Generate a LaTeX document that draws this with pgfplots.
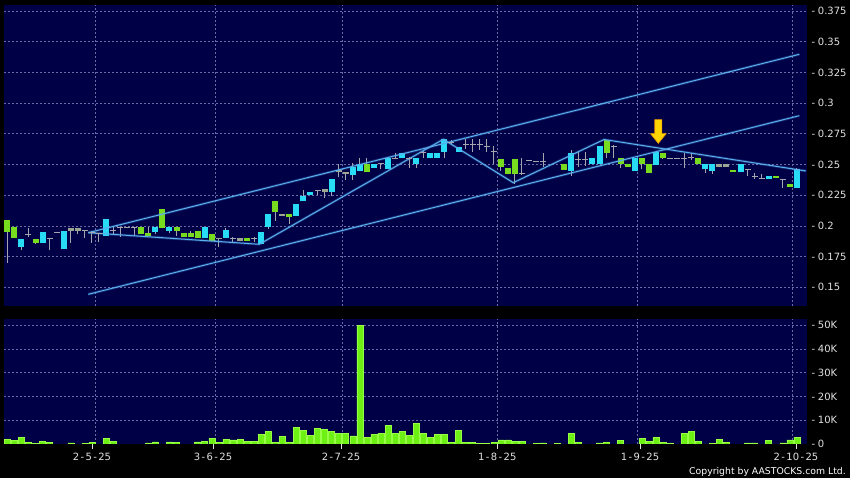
\documentclass[border=0pt]{standalone}
\usepackage{fontspec}
\setmainfont{DejaVu Sans}
\usepackage{pgfplots}
\usepackage{pgfplotstable}
\pgfplotsset{compat=1.18}

\definecolor{navy}{RGB}{0,0,70}
\definecolor{gridc}{RGB}{105,105,165}
\definecolor{labc}{RGB}{225,225,225}
\definecolor{upc}{RGB}{40,220,245}
\definecolor{dnc}{RGB}{120,220,30}
\definecolor{flatc}{RGB}{155,165,145}
\definecolor{wickc}{RGB}{165,165,175}
\definecolor{volc}{RGB}{110,240,20}
\definecolor{voledge}{RGB}{150,255,70}
\definecolor{trendc}{RGB}{90,175,240}
\definecolor{arrowc}{RGB}{255,212,0}
\definecolor{arrowedge}{RGB}{235,150,0}

\newcommand\yl[1]{-\kern2.8bp #1}
\newcommand\dt[3]{#1\kern1.4bp-\kern1.4bp#2\kern1.4bp-\kern1.4bp#3}

% x = trading day index, lo/hi = wick, bl/bh = body, t: 0 flat, 1 up, 2 down, 3 small
\pgfplotstableread{
x lo hi bl bh t
0 0.170 0.205 0.195 0.205 2
1 0.190 0.199 0.190 0.199 2
2 0.180 0.189 0.183 0.189 1
3 0.191 0.198 0.193 0.193 0
4 0.185 0.189 0.186 0.189 2
5 0.186 0.195 0.186 0.195 1
6 0.180 0.190 0.190 0.190 0
7 0.195 0.195 0.195 0.195 0
8 0.181 0.196 0.181 0.196 1
9 0.186 0.198 0.196 0.198 3
10 0.193 0.198 0.196 0.198 3
11 0.190 0.196 0.196 0.196 0
12 0.186 0.196 0.195 0.195 0
13 0.187 0.194 0.194 0.194 0
14 0.192 0.206 0.192 0.206 1
15 0.193 0.200 0.196 0.196 0
16 0.191 0.199 0.199 0.199 0
17 0.198 0.199 0.198 0.199 3
18 0.192 0.199 0.199 0.199 0
19 0.193 0.199 0.193 0.199 2
20 0.192 0.199 0.192 0.194 2
21 0.193 0.199 0.195 0.199 1
22 0.198 0.2135 0.198 0.2135 2
23 0.194 0.199 0.196 0.199 1
24 0.192 0.199 0.196 0.199 2
25 0.191 0.194 0.191 0.194 2
26 0.191 0.196 0.191 0.194 2
27 0.190 0.196 0.190 0.196 2
28 0.190 0.199 0.190 0.199 1
29 0.188 0.193 0.188 0.193 2
30 0.183 0.190 0.189 0.190 3
31 0.190 0.198 0.190 0.197 1
32 0.187 0.191 0.190 0.190 0
33 0.188 0.190 0.188 0.190 3
34 0.188 0.190 0.188 0.190 2
35 0.187 0.191 0.190 0.190 0
36 0.185 0.195 0.185 0.195 1
37 0.1975 0.210 0.199 0.210 1
38 0.204 0.220 0.211 0.220 2
39 0.208 0.210 0.208 0.210 3
40 0.2015 0.210 0.2075 0.210 2
41 0.208 0.218 0.208 0.218 1
42 0.220 0.229 0.220 0.224 1
43 0.225 0.228 0.225 0.228 1
44 0.225 0.229 0.229 0.229 0
45 0.223 0.230 0.228 0.230 3
46 0.224 0.238 0.228 0.238 1
47 0.240 0.250 0.2435 0.2455 3
48 0.2375 0.244 0.242 0.244 3
49 0.237 0.251 0.2415 0.248 1
50 0.245 0.255 0.245 0.250 1
51 0.2435 0.255 0.2435 0.2505 2
52 0.247 0.2505 0.247 0.2505 1
53 0.246 0.2505 0.2505 0.2505 0
54 0.246 0.2555 0.246 0.2555 1
55 0.255 0.2595 0.255 0.255 0
56 0.255 0.2595 0.255 0.2595 1
57 0.2475 0.256 0.255 0.255 0
58 0.247 0.255 0.2505 0.255 1
59 0.2555 0.262 0.2595 0.2595 0
60 0.255 0.2595 0.255 0.2595 1
61 0.255 0.2595 0.255 0.2595 1
62 0.255 0.2705 0.2605 0.2705 1
63 0.2655 0.270 0.268 0.268 0
64 0.2605 0.2645 0.2605 0.2645 1
65 0.263 0.2705 0.266 0.266 0
66 0.260 0.2705 0.266 0.266 0
67 0.262 0.2705 0.266 0.266 0
68 0.260 0.2705 0.265 0.265 0
69 0.250 0.265 0.2605 0.2605 0
70 0.245 0.2545 0.248 0.2545 2
71 0.242 0.2475 0.242 0.2475 2
72 0.2345 0.2545 0.242 0.2545 2
73 0.2415 0.255 0.243 0.243 0
74 0.2535 0.2535 0.2535 0.2535 0
75 0.2525 0.2525 0.2525 0.2525 0
76 0.248 0.2595 0.2525 0.2525 0
79 0.2455 0.250 0.2455 0.250 2
80 0.241 0.262 0.245 0.2595 1
81 0.248 0.260 0.254 0.254 0
82 0.249 0.260 0.254 0.254 0
83 0.2505 0.255 0.2505 0.255 1
84 0.2505 0.265 0.2505 0.265 1
85 0.255 0.270 0.2595 0.270 2
86 0.255 0.266 0.265 0.265 0
87 0.247 0.255 0.2505 0.255 2
88 0.248 0.2505 0.248 0.2505 2
89 0.245 0.255 0.245 0.255 1
90 0.246 0.255 0.2505 0.255 2
91 0.243 0.2505 0.243 0.2505 2
92 0.2495 0.2605 0.2495 0.2605 1
93 0.2545 0.2595 0.255 0.2595 2
94 0.255 0.255 0.255 0.255 0
95 0.255 0.255 0.255 0.255 0
96 0.247 0.259 0.255 0.255 0
97 0.254 0.2595 0.256 0.256 0
98 0.2505 0.255 0.2505 0.255 2
99 0.243 0.2505 0.246 0.2505 1
100 0.2425 0.2505 0.245 0.2505 1
101 0.248 0.2505 0.248 0.2505 3
102 0.248 0.2505 0.248 0.2505 3
103 0.244 0.2455 0.244 0.2455 2
104 0.2435 0.2505 0.2435 0.2505 1
105 0.241 0.246 0.246 0.246 0
106 0.238 0.243 0.240 0.240 0
107 0.239 0.2425 0.239 0.239 0
108 0.2385 0.2405 0.2385 0.2405 1
109 0.239 0.2405 0.239 0.2405 2
110 0.2305 0.238 0.238 0.238 0
111 0.232 0.2345 0.232 0.2345 2
112 0.2305 0.247 0.2305 0.246 1
}\candles

% volume in thousands
\pgfplotstableread{
x v
0 2.1
1 1.4
2 2.8
3 0.7
4 0.3
5 1.1
6 0.7
9 0.5
11 0.3
12 0.6
14 2.4
15 1.2
20 0.5
21 0.9
23 0.9
24 0.6
27 0.9
28 1.0
29 2.5
30 0.6
31 2.1
32 1.7
33 2.0
34 1.0
35 1.0
36 4.2
37 5.2
38 0.6
39 3.1
40 0.6
41 7.0
42 5.8
43 3.5
44 6.6
45 6.2
46 5.3
47 4.4
48 4.4
49 3.4
50 50.1
51 2.8
52 4.1
53 4.6
54 7.7
55 4.4
56 5.3
57 3.6
58 8.7
59 4.4
60 2.9
61 4.1
62 4.1
63 0.6
64 5.6
65 0.7
66 0.6
67 0.2
68 0.2
69 0.7
70 1.7
71 1.7
72 1.1
73 1.1
75 0.3
76 0.5
78 0.2
80 4.5
81 0.6
84 0.5
85 0.6
87 1.5
90 2.4
91 1.1
92 2.8
93 0.7
94 0.2
96 4.4
97 5.2
98 1.1
100 0.3
101 1.8
102 0.7
105 0.5
106 0.5
108 1.4
110 0.5
111 1.7
112 2.9
}\volume

\pgfplotsset{
  body/.style={draw=#1, line width=6bp, mark=none,
    quiver={u=0, v=\thisrow{bh}-\thisrow{bl}}},
  trend/.style={draw=trendc, line width=1bp, mark=none,
    preaction={draw=trendc, line width=2.6bp, opacity=0.25}},
  chart/.style={
    scale only axis, width=803bp, anchor=south west,
    xmin=-0.468, xmax=113.43,
    axis background/.style={fill=navy},
    axis line style={draw=none},
    xtick={12.54,29.50,47.55,69.56,89.42,111.40},
    xticklabels={,,,,,},
    xmajorgrids, ymajorgrids,
    grid style={gridc, dash pattern=on 2bp off 2bp, line width=0.6bp},
    major tick length=0pt,
    tick style={labc, line width=0.8bp},
    xtick pos=bottom,
    ytick pos=right, yticklabel pos=right,
    yticklabel style={anchor=west, inner sep=0pt, xshift=4.3bp},
    tick label style={text=labc, font=\fontsize{10bp}{12bp}\selectfont},
  },
}

\begin{document}
\begin{tikzpicture}
\path[use as bounding box, fill=black] (0,0) rectangle (850bp,478bp);

\begin{axis}[chart, at={(4bp,172bp)}, height=301bp,
  ymin=0.13477, ymax=0.37989,
  ytick={0.15,0.175,0.2,0.225,0.25,0.275,0.3,0.325,0.35,0.375},
  yticklabels={\yl{0.15},\yl{0.175},\yl{0.2},\yl{0.225},\yl{0.25},\yl{0.275},\yl{0.3},\yl{0.325},\yl{0.35},\yl{0.375}}]
  % wicks
  \addplot[draw=wickc, line width=1bp, mark=none,
    quiver={u=0, v=\thisrow{hi}-\thisrow{lo}}]
    table[x=x, y=lo] {\candles};
  % bodies
  \addplot[restrict expr to domain={\thisrow{t}}{0.5:1.5}, body=upc] table[x=x, y=bl] {\candles};
  \addplot[restrict expr to domain={\thisrow{t}}{1.5:2.5}, body=dnc] table[x=x, y=bl] {\candles};
  \addplot[restrict expr to domain={\thisrow{t}}{2.5:3.5}, body=flatc] table[x=x, y=bl] {\candles};
  \addplot[restrict expr to domain={\thisrow{t}}{-0.5:0.5}, only marks, mark=-, mark size=3bp,
    mark options={draw=wickc, line width=1bp}]
    table[x=x, y=bl] {\candles};
  % trend lines
  \addplot[trend] coordinates {(11.49,0.19446) (112.34,0.33974)};
  \addplot[trend] coordinates {(11.49,0.1443) (112.34,0.28974)};
  \addplot[trend] coordinates {(11.49,0.19446) (35.74,0.18502) (61.84,0.27052)
    (71.77,0.23518) (84.64,0.27036) (113.29,0.24471)};
  % marker arrow
  \addplot[fill=arrowc, draw=arrowedge, line width=0.6bp, mark=none] coordinates {
    (91.84,0.2865) (92.84,0.2865) (92.84,0.2752) (93.47,0.2752)
    (92.34,0.2672) (91.21,0.2752) (91.84,0.2752)} -- cycle;
\end{axis}

\begin{axis}[chart, at={(4bp,34bp)}, height=125bp,
  ymin=0, ymax=52.65,
  ytick={10,20,30,40,50},
  yticklabels={\yl{10K},\yl{20K},\yl{30K},\yl{40K},\yl{50K}},
  extra y ticks={0}, extra y tick labels={\yl{0}},
  extra y tick style={grid=none},
  extra x ticks={12.01,29.18,47.33,69.50,89.74,111.87},
  extra x tick labels={\dt{2}{5}{25},\dt{3}{6}{25},\dt{2}{7}{25},\dt{1}{8}{25},\dt{1}{9}{25},\dt{2}{10}{25}},
  extra x tick style={grid=none, major tick length=5bp, tick align=outside,
    xticklabel style={yshift=-0.5bp}}]
  \addplot[ybar, bar width=6bp, fill=volc, draw=voledge, line width=0.5bp]
    table[x=x, y=v] {\volume};
\end{axis}

\node[anchor=base east, inner sep=0pt, text=white, font=\fontsize{9.3bp}{11bp}\selectfont]
  at (846bp,3.5bp) {Copyright by AASTOCKS.com Ltd.};
\end{tikzpicture}
\end{document}
